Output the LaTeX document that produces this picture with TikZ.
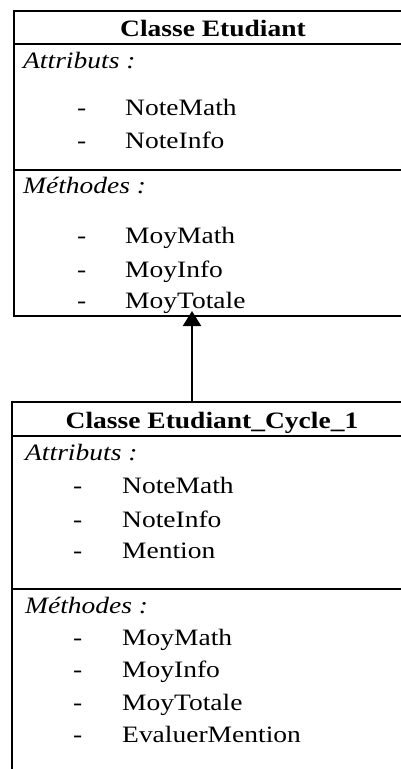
\documentclass[tikz,border=0pt]{standalone}
\usepackage{fontspec}
\setmainfont[FakeStretch=1.17]{Liberation Serif}
\usetikzlibrary{arrows.meta}
\begin{document}
\begin{tikzpicture}[x=1pt,y=-1pt,
  txt/.style={anchor=base west,inner sep=0pt,font=\fontsize{23.5}{27}\selectfont},
  ttl/.style={anchor=base,inner sep=0pt,font=\fontsize{23.5}{27}\selectfont\bfseries},
  lbl/.style={txt,font=\fontsize{23.5}{27}\selectfont\itshape},
  border/.style={line width=2pt}]
\useasboundingbox (0,0) rectangle (401,769);
% top class box
\draw[border] (402,11) -- (14,11) -- (14,316) -- (402,316);
\draw[border] (14,44) -- (402,44);
\draw[border] (14,170) -- (402,170);
\node[ttl] (t1) at (213,36) {Classe Etudiant};
\node[lbl] (a1) at (23,68) {Attributs :};
\node[txt] (d11) at (77,115) {-};
\node[txt] (x11) at (125,115) {NoteMath};
\node[txt] (d12) at (77,148) {-};
\node[txt] (x12) at (125,148) {NoteInfo};
\node[lbl] (m1) at (23,193) {Méthodes :};
\node[txt] (d13) at (77,243) {-};
\node[txt] (x13) at (125,243) {MoyMath};
\node[txt] (d14) at (77,277) {-};
\node[txt] (x14) at (125,277) {MoyInfo};
\node[txt] (d15) at (77,308) {-};
\node[txt] (x15) at (125,308) {MoyTotale};
% bottom class box
\draw[border] (402,402) -- (12,402) -- (12,770);
\draw[border] (12,436) -- (402,436);
\draw[border] (12,589) -- (402,589);
\node[ttl] (t2) at (212,428) {Classe Etudiant\_Cycle\_1};
\node[lbl] (a2) at (25,460) {Attributs :};
\node[txt] (d21) at (73,493) {-};
\node[txt] (x21) at (122,493) {NoteMath};
\node[txt] (d22) at (73,527) {-};
\node[txt] (x22) at (122,527) {NoteInfo};
\node[txt] (d23) at (73,558) {-};
\node[txt] (x23) at (122,558) {Mention};
\node[lbl] (m2) at (25,613) {Méthodes :};
\node[txt] (d24) at (73,645) {-};
\node[txt] (x24) at (122,645) {MoyMath};
\node[txt] (d25) at (73,677) {-};
\node[txt] (x25) at (122,677) {MoyInfo};
\node[txt] (d26) at (73,710) {-};
\node[txt] (x26) at (122,710) {MoyTotale};
\node[txt] (d27) at (73,742) {-};
\node[txt] (x27) at (122,742) {EvaluerMention};
% inheritance arrow
\coordinate (child) at (192,402);
\coordinate (parent) at (192,311);
\draw[line width=2.2pt,-{Triangle[length=15pt,width=18pt]}] (child) -- (parent);
\end{tikzpicture}
\end{document}
